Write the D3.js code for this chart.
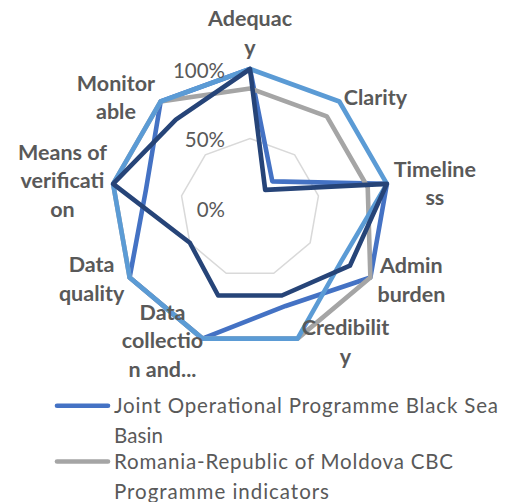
<!DOCTYPE html>
<html>
<head>
<meta charset="utf-8">
<script src="https://cdn.jsdelivr.net/npm/d3@7"></script>
<style>
  html, body { margin: 0; padding: 0; background: #ffffff; }
  svg { display: block; }
</style>
</head>
<body>
<svg id="chart" width="505" height="502"></svg>
<script>
// ---- data ----
const categories = ["Adequacy", "Clarity", "Timeliness", "Admin burden", "Credibility",
  "Data collection and...", "Data quality", "Means of verification", "Monitorable"];
const categoryLines = [["Adequac", "y"], ["Clarity"], ["Timeline", "ss"], ["Admin", "burden"],
  ["Credibilit", "y"], ["Data", "collectio", "n and..."], ["Data", "quality"],
  ["Means of", "verificati", "on"], ["Monitor", "able"]];
const seriesNames = ["Joint Operational Programme Black Sea Basin",
  "Romania-Republic of Moldova CBC Programme indicators", "Series 3", "Series 4"];
const legendLines = [["Joint Operational Programme Black Sea", "Basin"],
  ["Romania-Republic of Moldova CBC", "Programme indicators"]];
const seriesJOP = [1.00, 0.25, 1.00, 1.00, 0.75, 1.00, 1.00, 0.76, 1.00];
const seriesRoMd = [0.86, 0.86, 0.86, 1.00, 1.00, 1.00, 1.00, 1.00, 1.00];
const series3 = [1.00, 1.00, 1.00, 0.76, 1.00, 1.00, 1.00, 1.00, 1.00];
const series4 = [1.00, 0.17, 1.00, 0.83, 0.67, 0.67, 0.50, 1.00, 0.83];
const tickValues = [0, 0.5, 1];
const tickLabels = ["0%", "50%", "100%"];

// ---- styles ----
const colors = ["#4472C4", "#A5A5A5", "#5B9BD5", "#264478"];
const textColor = "#595959";
const cx = 250, cy = 208, R = 139;
const labelOffsets = [[0, -43], [36, 3.5], [48, -7], [41, -4.5], [48, -3.6],
  [-40, -19], [-38, -5.5], [-50.6, -24], [-44.7, -10.8]];
const lineH = 28.5;
const legendWidths = [[384, 49], [339, 215]];

const svg = d3.select("#chart");
const r = d3.scaleLinear().domain([0, 1]).range([0, R]);
const angle = d3.scalePoint().domain(d3.range(categories.length)).range([0, 2 * Math.PI * (categories.length - 1) / categories.length]);
const pt = (i, v) => [cx + r(v) * Math.sin(angle(i)), cy - r(v) * Math.cos(angle(i))];

// gridlines
const g = svg.append("g");
tickValues.filter(t => t > 0).forEach(t => {
  g.append("path")
    .attr("d", d3.line()(categories.map((c, i) => pt(i, t))) + "Z")
    .attr("fill", "none").attr("stroke", "#D9D9D9").attr("stroke-width", 1.5);
});

// series
const allSeries = [seriesJOP, seriesRoMd, series3, series4];
allSeries.forEach((s, k) => {
  svg.append("path")
    .attr("d", d3.line()(s.map((v, i) => pt(i, v))) + "Z")
    .attr("fill", "none").attr("stroke", colors[k]).attr("stroke-width", 4.6)
    .attr("stroke-linejoin", "round");
});

// tick labels
tickValues.forEach((t, i) => {
  svg.append("text")
    .attr("x", cx - 25).attr("y", cy - r(t) + 8.5)
    .attr("text-anchor", "end")
    .attr("font-family", "Lato, sans-serif").attr("font-size", 20.5)
    .attr("fill", textColor).text(tickLabels[i]);
});

// category labels
categoryLines.forEach((lines, i) => {
  const [px, py] = pt(i, 1);
  const t = svg.append("text")
    .attr("font-family", "Lato, sans-serif").attr("font-weight", "bold")
    .attr("font-size", 21.5).attr("fill", textColor).attr("text-anchor", "middle");
  lines.forEach((l, j) => {
    t.append("tspan").attr("x", px + labelOffsets[i][0])
      .attr("y", py + labelOffsets[i][1] + j * lineH).text(l);
  });
});

// legend
const legend = svg.append("g");
const legendY = [413.3, 469];
legendLines.forEach((lines, k) => {
  legend.append("line")
    .attr("x1", 57).attr("x2", 108)
    .attr("y1", legendY[k] - 7.5).attr("y2", legendY[k] - 7.5)
    .attr("stroke", colors[k]).attr("stroke-width", 4.6).attr("stroke-linecap", "round");
  lines.forEach((l, j) => {
    legend.append("text")
      .attr("font-family", "Lato, sans-serif").attr("font-size", 20.5).attr("fill", textColor)
      .attr("x", 114).attr("y", legendY[k] + j * 29.5)
      .attr("textLength", legendWidths[k][j]).attr("lengthAdjust", "spacing")
      .text(l);
  });
});
</script>
</body>
</html>
